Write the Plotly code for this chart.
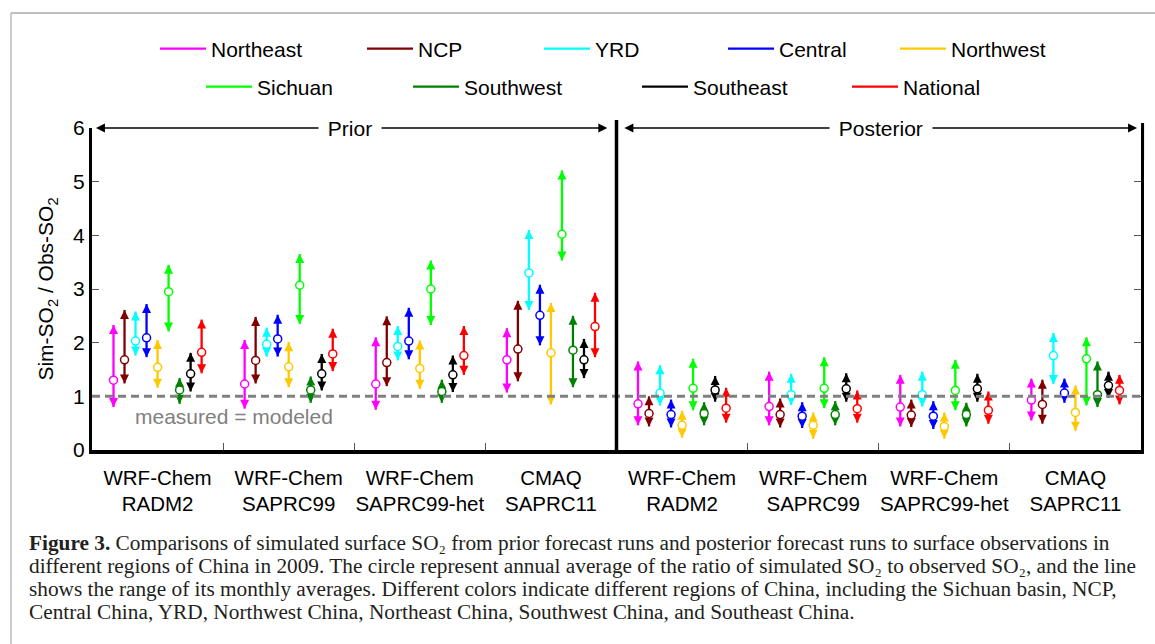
import plotly.graph_objects as go

# ---------------- data ----------------
categories = ["WRF-Chem<br>RADM2", "WRF-Chem<br>SAPRC99", "WRF-Chem<br>SAPRC99-het", "CMAQ<br>SAPRC11",
              "WRF-Chem<br>RADM2", "WRF-Chem<br>SAPRC99", "WRF-Chem<br>SAPRC99-het", "CMAQ<br>SAPRC11"]
regions = ["Northeast", "NCP", "YRD", "Central", "Northwest", "Sichuan", "Southwest", "Southeast", "National"]
colors = ["#FF00FF", "#800000", "#00FFFF", "#0000FF", "#FFC800", "#00FF00", "#008000", "#000000", "#FF0000"]

northeast_mean = [1.30, 1.23, 1.23, 1.68, 0.86, 0.81, 0.80, 0.93]
northeast_low = [0.80, 0.77, 0.75, 1.07, 0.46, 0.46, 0.44, 0.55]
northeast_high = [2.33, 2.05, 2.10, 2.27, 1.65, 1.46, 1.40, 1.33]

ncp_mean = [1.68, 1.67, 1.63, 1.88, 0.68, 0.66, 0.65, 0.85]
ncp_low = [1.24, 1.24, 1.19, 1.28, 0.44, 0.42, 0.43, 0.49]
ncp_high = [2.61, 2.48, 2.49, 2.78, 1.00, 0.96, 0.94, 1.31]

yrd_mean = [2.03, 1.97, 1.93, 3.30, 1.06, 1.03, 1.03, 1.76]
yrd_low = [1.76, 1.74, 1.67, 2.61, 0.83, 0.84, 0.81, 1.23]
yrd_high = [2.58, 2.28, 2.31, 4.10, 1.58, 1.42, 1.46, 2.18]

central_mean = [2.09, 2.07, 2.03, 2.51, 0.66, 0.63, 0.63, 1.06]
central_low = [1.73, 1.74, 1.69, 1.95, 0.42, 0.41, 0.39, 0.88]
central_high = [2.72, 2.52, 2.65, 3.08, 0.94, 0.89, 0.91, 1.33]

northwest_mean = [1.54, 1.55, 1.52, 1.81, 0.46, 0.46, 0.44, 0.70]
northwest_low = [1.16, 1.17, 1.14, 0.85, 0.23, 0.21, 0.21, 0.36]
northwest_high = [2.05, 2.01, 2.04, 2.74, 0.73, 0.70, 0.70, 1.20]

sichuan_mean = [2.95, 3.07, 3.00, 4.02, 1.15, 1.15, 1.11, 1.70]
sichuan_low = [2.21, 2.35, 2.33, 3.53, 0.74, 0.78, 0.74, 0.83]
sichuan_high = [3.45, 3.65, 3.53, 5.21, 1.70, 1.73, 1.68, 2.10]

southwest_mean = [1.12, 1.12, 1.09, 1.86, 0.68, 0.66, 0.66, 1.03]
southwest_low = [0.86, 0.88, 0.88, 1.17, 0.46, 0.46, 0.44, 0.80]
southwest_high = [1.34, 1.37, 1.31, 2.50, 0.89, 0.91, 0.88, 1.65]

southeast_mean = [1.42, 1.42, 1.40, 1.68, 1.12, 1.14, 1.14, 1.20]
southeast_low = [1.09, 1.11, 1.08, 1.34, 0.90, 0.90, 0.90, 0.97]
southeast_high = [1.81, 1.79, 1.76, 2.07, 1.38, 1.43, 1.42, 1.46]

national_mean = [1.82, 1.79, 1.76, 2.30, 0.78, 0.77, 0.74, 1.11]
national_low = [1.43, 1.47, 1.40, 1.73, 0.51, 0.51, 0.49, 0.85]
national_high = [2.43, 2.26, 2.31, 2.93, 1.16, 1.11, 1.09, 1.40]

y_ticks = [0, 1, 2, 3, 4, 5, 6]
panel_names = ["Prior", "Posterior"]

series = [
    (northeast_mean, northeast_low, northeast_high),
    (ncp_mean, ncp_low, ncp_high),
    (yrd_mean, yrd_low, yrd_high),
    (central_mean, central_low, central_high),
    (northwest_mean, northwest_low, northwest_high),
    (sichuan_mean, sichuan_low, sichuan_high),
    (southwest_mean, southwest_low, southwest_high),
    (southeast_mean, southeast_low, southeast_high),
    (national_mean, national_low, national_high),
]

# ---------------- figure ----------------
FONT = "Liberation Sans, Arial, sans-serif"
SERIF = "Liberation Serif, Times New Roman, DejaVu Serif, serif"
W, H = 1155, 644
L, R, T, B = 92, 14, 128, 194
PW, PH = W - L - R, H - T - B


def px_x(px):
    return (px - L) / PW


def px_y(py):
    return (H - B - py) / PH


fig = go.Figure()
step = 0.084
n_groups = len(categories)

legend_pos = [(158, 49), (365, 49), (542, 49), (726, 49), (898, 49),
              (204, 87), (411, 87), (640, 87), (850, 87)]

for i, (name, col, (mean, low, high)) in enumerate(zip(regions, colors, series)):
    xs = [g + 0.5 + (i - 4) * step for g in range(n_groups)]
    lx, ly = [], []
    for x, lo, hi in zip(xs, low, high):
        lx += [x, x, None]
        ly += [lo, hi, None]
    lg = "legend" if i == 0 else f"legend{i + 1}"
    fig.add_trace(go.Scatter(x=lx, y=ly, mode="lines", name=name,
                             line=dict(color=col, width=2.3), legend=lg,
                             hoverinfo="skip"))
    fig.add_trace(go.Scatter(x=xs, y=high, mode="markers", showlegend=False,
                             marker=dict(symbol="arrow-up", size=9, color=col, line=dict(width=0)),
                             cliponaxis=False, hoverinfo="skip"))
    fig.add_trace(go.Scatter(x=xs, y=low, mode="markers", showlegend=False,
                             marker=dict(symbol="arrow-down", size=9, color=col, line=dict(width=0)),
                             cliponaxis=False, hoverinfo="skip"))
    fig.add_trace(go.Scatter(x=xs, y=mean, mode="markers", showlegend=False,
                             marker=dict(symbol="circle", size=8, color="white",
                                         line=dict(color=col, width=1.5)),
                             cliponaxis=False, name=name))

# Prior / Posterior span arrows: heads as markers at the top edge
span_left = [0.03, 4.06]
span_right = [3.93, 7.97]
fig.add_trace(go.Scatter(x=span_left, y=[6, 6], mode="markers", showlegend=False, hoverinfo="skip",
                         marker=dict(symbol="arrow-left", size=9, color="black", line=dict(width=0)),
                         cliponaxis=False))
fig.add_trace(go.Scatter(x=span_right, y=[6, 6], mode="markers", showlegend=False, hoverinfo="skip",
                         marker=dict(symbol="arrow-right", size=9, color="black", line=dict(width=0)),
                         cliponaxis=False))

# legends, one per entry, placed like the reference
legends = {}
for i, (px, py) in enumerate(legend_pos):
    key = "legend" if i == 0 else f"legend{i + 1}"
    legends[key] = dict(x=px_x(px - 3), y=px_y(py), xanchor="left", yanchor="middle",
                        orientation="h", bgcolor="rgba(0,0,0,0)", borderwidth=0,
                        itemwidth=46, font=dict(family=FONT, size=21, color="black"))

shapes = [
    # 1:1 reference line
    dict(type="line", xref="x", yref="y", x0=0, x1=8, y0=1, y1=1,
         line=dict(color="#808080", width=3, dash="8px,5px")),
    # prior / posterior divider
    dict(type="line", xref="paper", yref="paper", x0=0.5, x1=0.5, y0=0, y1=px_y(120),
         line=dict(color="black", width=3.5)),
    # right axis slightly raised like the reference
    dict(type="line", xref="paper", yref="paper", x0=1.0015, x1=1.0015, y0=0.9, y1=px_y(123),
         line=dict(color="black", width=3)),
    # outer frame of the figure page
    dict(type="line", xref="paper", yref="paper", x0=px_x(11), x1=px_x(11), y0=px_y(13), y1=px_y(650),
         line=dict(color="#BBBBBB", width=1.5)),
    dict(type="line", xref="paper", yref="paper", x0=px_x(11), x1=px_x(1160), y0=px_y(13), y1=px_y(13),
         line=dict(color="#AAAAAA", width=1.5)),
]
# span arrow shafts (paper coords so they are not clipped at the top edge)
for a, b in zip(span_left, span_right):
    shapes.append(dict(type="line", xref="paper", yref="paper", x0=(a + 0.05) / 8, x1=(b - 0.05) / 8,
                       y0=1, y1=1, line=dict(color="black", width=1.6)))

annotations = []
for name, xc in zip(panel_names, [1.97, 6.02]):
    annotations.append(dict(x=xc, y=6, xref="x", yref="y", text="&nbsp;" + name + "&nbsp;",
                            showarrow=False, bgcolor="white", borderpad=3,
                            xanchor="center", yanchor="middle",
                            font=dict(family=FONT, size=21, color="black")))
annotations.append(dict(x=1.08, y=0.62, xref="x", yref="y", text="measured = modeled", showarrow=False,
                        xanchor="center", yanchor="middle",
                        font=dict(family=FONT, size=21, color="#808080")))

caption_lines = [
    "<b>Figure 3.</b> Comparisons of simulated surface SO₂ from prior forecast runs and posterior forecast runs to surface observations in",
    "different regions of China in 2009. The circle represent annual average of the ratio of simulated SO₂ to observed SO₂, and the line",
    "shows the range of its monthly averages. Different colors indicate different regions of China, including the Sichuan basin, NCP,",
    "Central China, YRD, Northwest China, Northeast China, Southwest China, and Southeast China.",
]
for k, line in enumerate(caption_lines):
    annotations.append(dict(x=px_x(27), y=px_y(543 + 23 * k), xref="paper", yref="paper", text=line,
                            showarrow=False, xanchor="left", yanchor="middle", align="left",
                            font=dict(family=SERIF, size=21.3, color="#231F20")))

fig.update_layout(
    width=W, height=H, autosize=False,
    margin=dict(l=L, r=R, t=T, b=B, pad=0),
    paper_bgcolor="white", plot_bgcolor="white",
    font=dict(family=FONT, color="black"),
    shapes=shapes, annotations=annotations,
    **legends,
)
fig.update_xaxes(
    range=[0, 8], showgrid=False, zeroline=False,
    showline=True, linecolor="black", linewidth=4, mirror=False,
    tickmode="array", tickvals=[g + 0.5 for g in range(n_groups)], ticktext=categories,
    ticks="", ticklabelstandoff=6, tickfont=dict(family=FONT, size=20.5, color="black"),
    minor=dict(tickvals=[1, 2, 3, 5, 6, 7], ticks="inside", ticklen=7, tickwidth=1, tickcolor="#555555"),
)
fig.update_yaxes(
    range=[0, 6], showgrid=False, zeroline=False,
    showline=True, linecolor="black", linewidth=3, mirror="ticks",
    tickmode="array", tickvals=y_ticks, ticks="inside", ticklen=7, tickwidth=1, tickcolor="#555555",
    tickfont=dict(family=FONT, size=21, color="black"),
    title=dict(text="Sim-SO<sub>2</sub> / Obs-SO<sub>2</sub>", font=dict(family=FONT, size=21), standoff=14),
)

fig.write_html("out.html", config={"displayModeBar": False},
               post_script="document.body.style.margin='0';")
